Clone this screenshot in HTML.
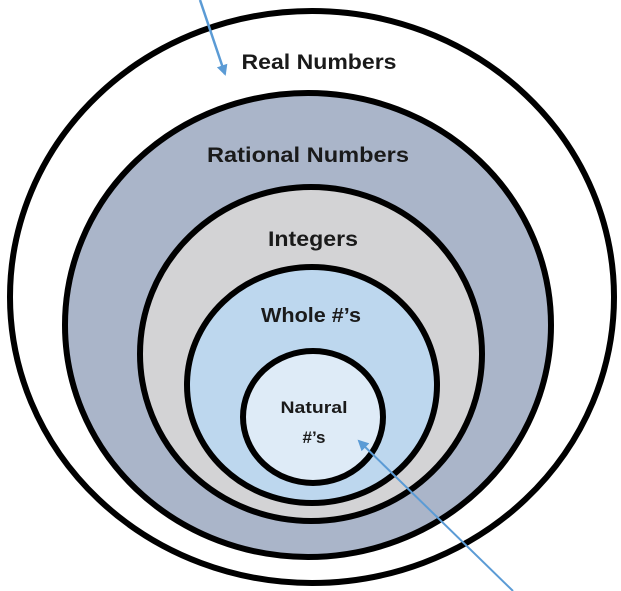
<!DOCTYPE html>
<html><head><style>html,body{margin:0;padding:0;background:#fff;width:621px;height:591px;overflow:hidden}</style></head>
<body>
<svg width="621" height="591" viewBox="0 0 621 591" xmlns="http://www.w3.org/2000/svg" font-family="'Liberation Sans', sans-serif" font-weight="bold" fill="#1a1a1a">
<defs><marker id="ah" markerWidth="11" markerHeight="11" refX="9" refY="5.5" orient="auto" markerUnits="userSpaceOnUse" viewBox="0 0 11 11"><path d="M0,0 L11,5.5 L0,11 z" fill="#5b9bd5"/></marker></defs>
<ellipse cx="312" cy="297" rx="302" ry="286" fill="#fff" stroke="#000" stroke-width="6"/>
<ellipse cx="308" cy="325" rx="243" ry="232" fill="#aab5c9" stroke="#000" stroke-width="6"/>
<ellipse cx="311" cy="354" rx="171" ry="167" fill="#d3d3d5" stroke="#000" stroke-width="6"/>
<ellipse cx="312" cy="385" rx="125" ry="118" fill="#bdd7ee" stroke="#000" stroke-width="6"/>
<ellipse cx="313" cy="417" rx="70" ry="66" fill="#deebf7" stroke="#000" stroke-width="6"/>
<text x="319" y="69" font-size="21" text-anchor="middle" textLength="155" lengthAdjust="spacingAndGlyphs">Real Numbers</text>
<text x="308" y="162" font-size="21" text-anchor="middle" textLength="202" lengthAdjust="spacingAndGlyphs">Rational Numbers</text>
<text x="313" y="246" font-size="21" text-anchor="middle" textLength="90" lengthAdjust="spacingAndGlyphs">Integers</text>
<text x="311" y="322" font-size="20" text-anchor="middle" textLength="100" lengthAdjust="spacingAndGlyphs">Whole #’s</text>
<text x="314" y="413" font-size="17" text-anchor="middle" textLength="67" lengthAdjust="spacingAndGlyphs">Natural</text>
<text x="314" y="443" font-size="17" text-anchor="middle">#’s</text>
<line x1="200" y1="0" x2="225" y2="74" stroke="#5b9bd5" stroke-width="2.5" marker-end="url(#ah)"/>
<line x1="513" y1="591" x2="359" y2="441" stroke="#5b9bd5" stroke-width="2" marker-end="url(#ah)"/>
</svg>
</body></html>
